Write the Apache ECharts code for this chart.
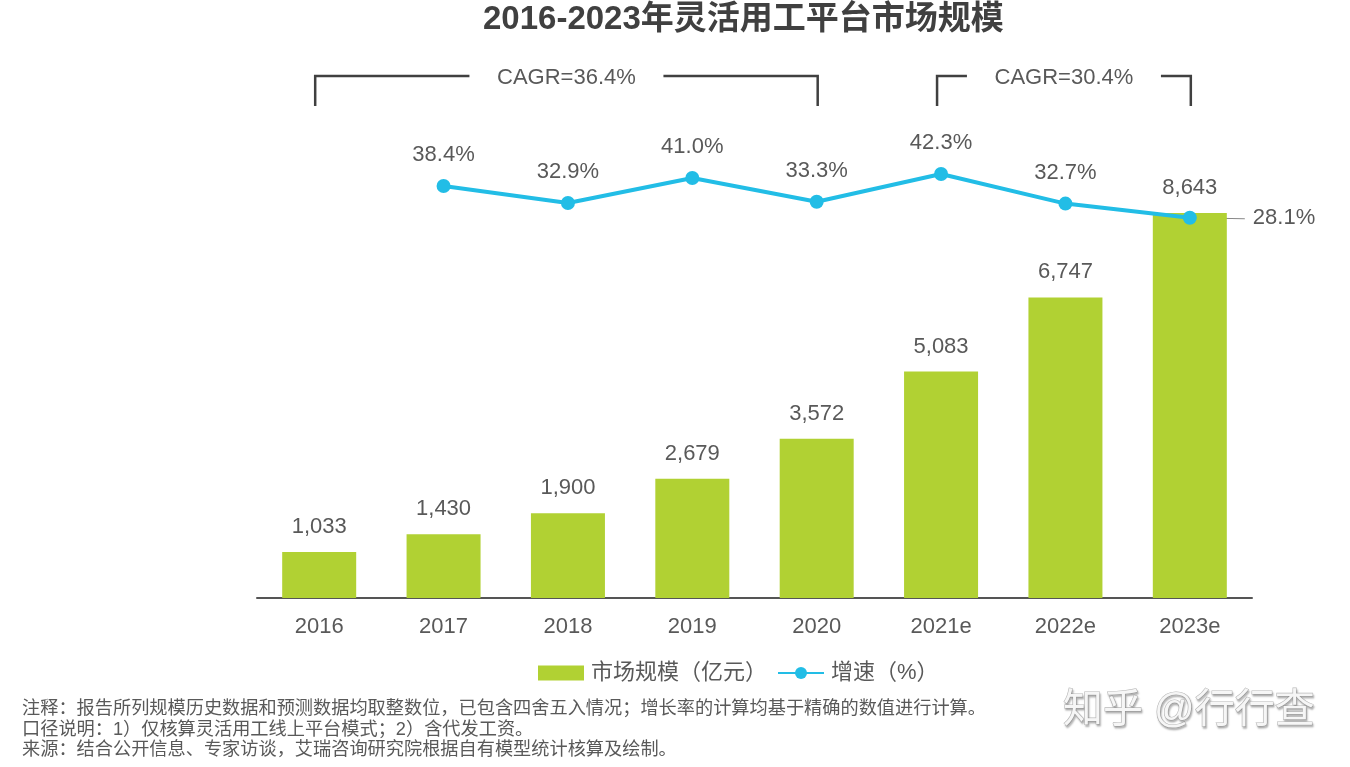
<!DOCTYPE html>
<html><head><meta charset="utf-8">
<script src="https://cdn.jsdelivr.net/npm/echarts@6/dist/echarts.min.js"></script>
<style>html,body{margin:0;padding:0;background:#fff}#c{width:1350px;height:767px}</style>
</head><body><div id="c"></div>
<script>
var categories = ['2016','2017','2018','2019','2020','2021e','2022e','2023e'];
var marketSize = [1033, 1430, 1900, 2679, 3572, 5083, 6747, 8643];
var growthRate = [null, 38.4, 32.9, 41.0, 33.3, 42.3, 32.7, 28.1];
var cagrGroups = [
  {from: '2016', to: '2020', text: 'CAGR=36.4%'},
  {from: '2021e', to: '2023e', text: 'CAGR=30.4%'}
];
var titleText = '2016-2023年灵活用工平台市场规模';
var notes = [
  '注释：报告所列规模历史数据和预测数据均取整数位，已包含四舍五入情况；增长率的计算均基于精确的数值进行计算。',
  '口径说明：1）仅核算灵活用工线上平台模式；2）含代发工资。',
  '来源：结合公开信息、专家访谈，艾瑞咨询研究院根据自有模型统计核算及绘制。'
];
var FONT = '"Liberation Sans","Noto Sans CJK SC",sans-serif';
var GREEN = '#b1d133', BLUE = '#22bde6', TXT = '#595959';

var chart = echarts.init(document.getElementById('c'));
var lineData = growthRate.map(function(v, i){
  if (i === growthRate.length - 1) {
    return {value: v, label: {position: 'right', distance: 56}};
  }
  return v;
});
chart.setOption({
  animation: false,
  textStyle: {fontFamily: FONT},
  title: {text: titleText, left: 478, top: -2,
    textStyle: {fontSize: 33, fontWeight: 'bold', color: '#404040', fontFamily: FONT}},
  legend: {
    top: 657, left: 533, itemWidth: 46, itemHeight: 15, itemGap: 10,
    textStyle: {fontSize: 22, color: TXT, fontFamily: FONT, padding: [0, 0, 0, 2]},
    data: [{name: '市场规模（亿元）', icon: 'rect'}, {name: '增速（%）'}]
  },
  grid: {left: 257, right: 98, top: 152.5, bottom: 169, containLabel: false},
  xAxis: {
    type: 'category', data: categories,
    axisLine: {lineStyle: {color: '#555', width: 2}},
    axisTick: {show: false},
    axisLabel: {fontSize: 22, color: TXT, margin: 18, fontFamily: FONT}
  },
  yAxis: [
    {type: 'value', min: 0, max: 10000, show: false, splitLine: {show: false}},
    {type: 'value', min: -95.4, max: 49.3, show: false, splitLine: {show: false}}
  ],
  series: [
    {
      name: '市场规模（亿元）', type: 'bar', data: marketSize, barWidth: 74,
      itemStyle: {color: GREEN},
      label: {show: true, position: 'top', distance: 14, fontSize: 22, color: TXT,
        fontFamily: FONT,
        formatter: function(p){ return p.value.toLocaleString('en-US'); }}
    },
    {
      name: '增速（%）', type: 'line', yAxisIndex: 1, data: lineData,
      connectNulls: false, symbol: 'circle', symbolSize: 14,
      lineStyle: {color: BLUE, width: 4}, itemStyle: {color: BLUE},
      label: {show: true, position: 'top', distance: 13, fontSize: 22, color: TXT,
        fontFamily: FONT, formatter: function(p){ return p.value.toFixed(1) + '%'; }},
      z: 5
    }
  ]
});

var g = [];
cagrGroups.forEach(function(c){
  var x1 = chart.convertToPixel({xAxisIndex: 0}, c.from) - 4;
  var x2 = chart.convertToPixel({xAxisIndex: 0}, c.to) + 1;
  var mid = (x1 + x2) / 2, half = 97, yTop = 76, yBot = 106;
  g.push({type: 'polyline', shape: {points: [[x1, yBot], [x1, yTop], [mid - half, yTop]]},
    style: {stroke: '#404040', lineWidth: 2.5, fill: null}});
  g.push({type: 'polyline', shape: {points: [[mid + half, yTop], [x2, yTop], [x2, yBot]]},
    style: {stroke: '#404040', lineWidth: 2.5, fill: null}});
  g.push({type: 'text', x: mid, y: yTop + 2, style: {text: c.text, fill: TXT,
    font: '22px ' + FONT, align: 'center', verticalAlign: 'middle'}});
});
var li = growthRate.length - 1;
var lp = chart.convertToPixel({xAxisIndex: 0, yAxisIndex: 1}, [li, growthRate[li]]);
g.push({type: 'line', shape: {x1: lp[0], y1: lp[1], x2: lp[0] + 55, y2: lp[1] + 1},
  style: {stroke: '#888', lineWidth: 1.2}, z: 1});
notes.forEach(function(t, i){
  g.push({type: 'text', x: 22, y: 709 + i * 20.5, style: {text: t, fill: TXT,
    font: '18.2px ' + FONT, verticalAlign: 'middle'}});
});
g.push({type: 'text', x: 1063, y: 711, style: {text: '知乎 @行行查', fill: '#f6f6f6',
  font: '40px ' + FONT, verticalAlign: 'middle', stroke: '#b8b8b8', lineWidth: 1.2,
  textShadowColor: 'rgba(0,0,0,0.25)', textShadowOffsetX: 1, textShadowOffsetY: 2, textShadowBlur: 2}});
chart.setOption({graphic: g});
</script></body></html>
